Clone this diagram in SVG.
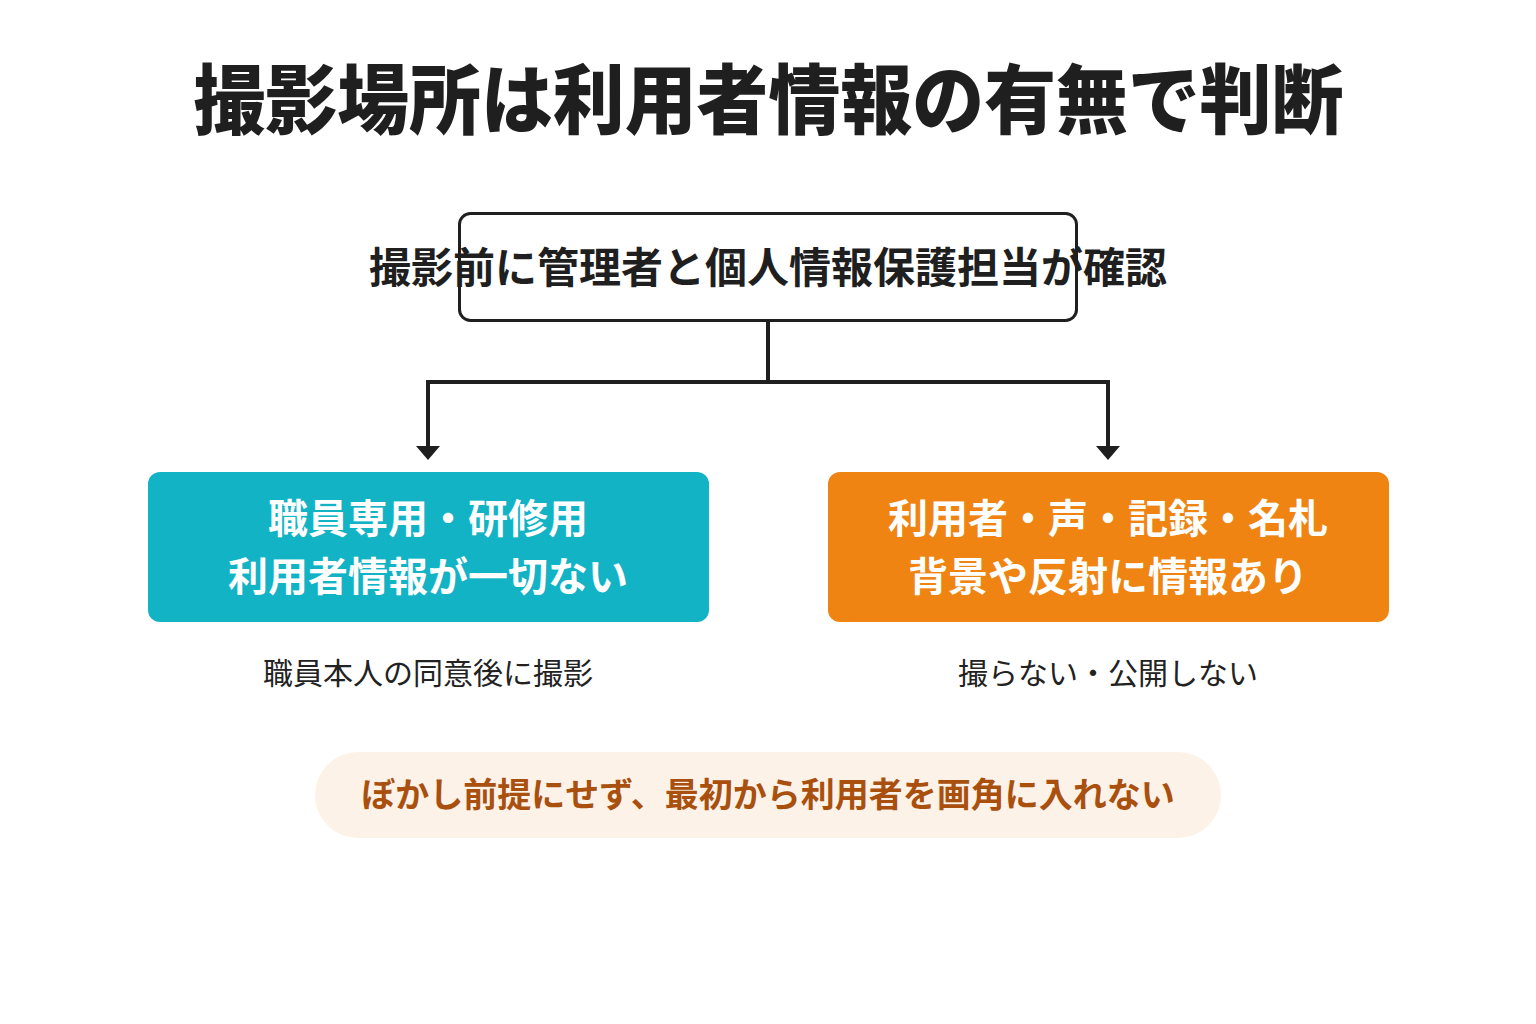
<svg xmlns="http://www.w3.org/2000/svg" width="1536" height="1024" viewBox="0 0 1536 1024">
<defs>
<style>
text{font-family:"Noto Sans CJK JP","Noto Sans",sans-serif;text-anchor:middle}
.title{font-size:76px;font-weight:900;fill:#1f1f1f}
.top{font-size:42px;font-weight:700;fill:#1f1f1f}
.box{font-size:40px;font-weight:700;fill:#ffffff}
.sub{font-size:30px;font-weight:400;fill:#222222}
.note{font-size:34px;font-weight:700;fill:#a9500f}
.conn{fill:none;stroke:#1f1f1f;stroke-width:4}
</style>
</defs>
<rect width="1536" height="1024" fill="#ffffff"/>
<g id="title"><text class="title" x="0" y="128" transform="translate(768.5,0) scale(0.946,1)">撮影場所は利用者情報の有無で判断</text></g>
<g id="connectors">
<path class="conn" d="M768,321 V382 H428 V448"/>
<path class="conn" d="M768,382 H1108 V448"/>
<path d="M416,446 L440,446 L428,460 Z" fill="#1f1f1f"/>
<path d="M1096,446 L1120,446 L1108,460 Z" fill="#1f1f1f"/>
</g>
<g id="node-check">
<rect x="459.5" y="213.5" width="617" height="107" rx="11" fill="none" stroke="#1f1f1f" stroke-width="3"/>
<text class="top" x="768" y="283">撮影前に管理者と個人情報保護担当が確認</text>
</g>
<g id="node-staff">
<rect x="148" y="472" width="561" height="150" rx="12" fill="#13b3c6"/>
<text class="box" x="428" y="533">職員専用・研修用</text>
<text class="box" x="428" y="591">利用者情報が一切ない</text>
</g>
<g id="label-staff"><text class="sub" x="428" y="684">職員本人の同意後に撮影</text></g>
<g id="node-user">
<rect x="828" y="472" width="561" height="150" rx="12" fill="#ef8413"/>
<text class="box" x="1108" y="533">利用者・声・記録・名札</text>
<text class="box" x="1108" y="591">背景や反射に情報あり</text>
</g>
<g id="label-user"><text class="sub" x="1108" y="684">撮らない・公開しない</text></g>
<g id="note">
<rect x="315" y="752" width="906" height="86" rx="43" fill="#fcf2e8"/>
<text class="note" x="768" y="807">ぼかし前提にせず、最初から利用者を画角に入れない</text>
</g>
</svg>
